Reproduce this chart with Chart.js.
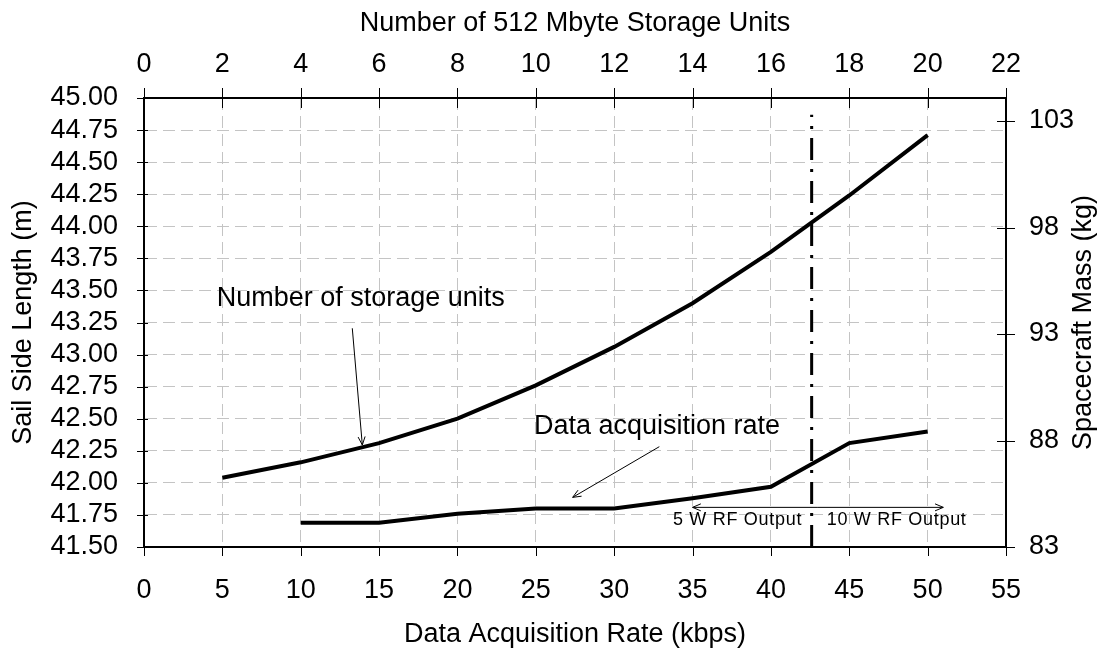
<!DOCTYPE html>
<html>
<head>
<meta charset="utf-8">
<script src="https://cdn.jsdelivr.net/npm/chart.js@4.4.1/dist/chart.umd.min.js"></script>
<style>
  html, body { margin: 0; background: #fff; }
</style>
</head>
<body>
<canvas id="myChart" width="1104" height="652"></canvas>
<script>
// data
const rateKbps = [10, 15, 20, 25, 30, 35, 40, 45, 50]
const rateSail = [41.69, 41.69, 41.76, 41.80, 41.80, 41.88, 41.97, 42.31, 42.40]
const storageUnits = [2, 4, 6, 8, 10, 12, 14, 16, 18, 20]
const storageSail = [42.04, 42.16, 42.31, 42.50, 42.76, 43.06, 43.40, 43.80, 44.24, 44.71]
const rfSwitchKbps = 42.6
const massTicks = [83, 88, 93, 98, 103]

const FONT = '"Liberation Sans", Arial, sans-serif'
Chart.defaults.font.family = FONT
Chart.defaults.font.size = 27
Chart.defaults.color = '#000'

function arrowHead (ctx, x0, y0, x1, y1) {
  const a = Math.atan2(y1 - y0, x1 - x0)
  const len = 9
  ctx.beginPath()
  ctx.moveTo(x1 - len * Math.cos(a - 0.4), y1 - len * Math.sin(a - 0.4))
  ctx.lineTo(x1, y1)
  ctx.lineTo(x1 - len * Math.cos(a + 0.4), y1 - len * Math.sin(a + 0.4))
  ctx.stroke()
}

// tick marks (Excel style cross ticks), notes and arrows
const extras = {
  id: 'extras',
  afterDraw (chart) {
    const { ctx, chartArea: ca, scales } = chart
    const { x, y } = scales
    ctx.save()
    ctx.strokeStyle = '#000'
    ctx.lineWidth = 1
    ctx.beginPath()
    scales.y.ticks.forEach(t => {
      const p = Math.round(scales.y.getPixelForValue(t.value)) + 0.5
      ctx.moveTo(ca.left - 7, p); ctx.lineTo(ca.left + 4, p)
    })
    scales.y2.ticks.forEach(t => {
      const p = Math.round(scales.y2.getPixelForValue(t.value)) + 0.5
      ctx.moveTo(ca.right - 9, p); ctx.lineTo(ca.right + 9, p)
    })
    scales.x2.ticks.forEach(t => {
      const p = Math.round(scales.x2.getPixelForValue(t.value)) + 0.5
      ctx.moveTo(p, ca.top - 10); ctx.lineTo(p, ca.top + 10)
    })
    scales.x.ticks.forEach(t => {
      const p = Math.round(scales.x.getPixelForValue(t.value)) + 0.5
      ctx.moveTo(p, ca.bottom); ctx.lineTo(p, ca.bottom + 9)
    })
    ctx.stroke()

    // annotation arrows
    const arrow = (xa, ya, xb, yb) => {
      const x0 = x.getPixelForValue(xa), y0 = y.getPixelForValue(ya)
      const x1 = x.getPixelForValue(xb), y1 = y.getPixelForValue(yb)
      ctx.beginPath(); ctx.moveTo(x0, y0); ctx.lineTo(x1, y1); ctx.stroke()
      arrowHead(ctx, x0, y0, x1, y1)
    }
    arrow(13.29, 43.205, 13.93, 42.295)
    arrow(32.88, 42.282, 27.35, 41.887)
    // double arrow for RF output ranges
    arrow(43, 41.809, 35, 41.809)
    arrow(43, 41.809, 51, 41.809)

    ctx.fillStyle = '#000'
    ctx.textBaseline = 'middle'
    ctx.textAlign = 'left'
    ctx.font = '27px ' + FONT
    ctx.fillText('Number of storage units', x.getPixelForValue(4.64), y.getPixelForValue(43.433))
    ctx.fillText('Data acquisition rate', x.getPixelForValue(24.88), y.getPixelForValue(42.438))
    ctx.font = '18px ' + FONT
    ctx.letterSpacing = '0.7px'
    ctx.fillText('5 W RF Output', x.getPixelForValue(33.75), y.getPixelForValue(41.71))
    ctx.fillText('10 W RF Output', x.getPixelForValue(43.56), y.getPixelForValue(41.71))
    ctx.letterSpacing = '0px'

    // right axis title, reading bottom to top
    ctx.font = '27px ' + FONT
    ctx.textAlign = 'center'
    ctx.translate(1084, (ca.top + ca.bottom) / 2)
    ctx.rotate(-Math.PI / 2)
    ctx.fillText('Spacecraft Mass (kg)', 0, 0)
    ctx.restore()
  }
}

const ctx = document.getElementById('myChart')
// eslint-disable-next-line no-unused-vars
const myChart = new Chart(ctx, {
  type: 'line',
  data: {
    datasets: [{
      label: 'Number of storage units',
      data: storageUnits.map((u, i) => ({ x: u, y: storageSail[i] })),
      xAxisID: 'x2',
      yAxisID: 'y',
      borderColor: '#000',
      borderWidth: 4,
      pointRadius: 0,
      tension: 0
    }, {
      label: 'Data acquisition rate',
      data: rateKbps.map((r, i) => ({ x: r, y: rateSail[i] })),
      xAxisID: 'x',
      yAxisID: 'y',
      borderColor: '#000',
      borderWidth: 4,
      pointRadius: 0,
      tension: 0
    }, {
      label: 'RF switch',
      data: [{ x: rfSwitchKbps, y: 41.5 }, { x: rfSwitchKbps, y: 44.87 }],
      xAxisID: 'x',
      yAxisID: 'y',
      borderColor: '#000',
      borderWidth: 3,
      borderDash: [22, 9, 3, 9],
      borderCapStyle: 'butt',
      pointRadius: 0
    }]
  },
  options: {
    responsive: false,
    animation: false,
    layout: { padding: 0 },
    plugins: { legend: { display: false }, tooltip: { enabled: false } },
    scales: {
      x: {
        type: 'linear',
        position: 'bottom',
        min: 0,
        max: 55,
        ticks: { stepSize: 5, padding: 27, maxRotation: 0, autoSkip: false },
        grid: { color: '#c4c4c4', lineWidth: 1, drawTicks: false },
        border: { color: '#000', width: 2, dash: [12, 6] },
        title: { display: true, text: 'Data Acquisition Rate (kbps)', font: { size: 27 }, padding: { top: 0, bottom: 1 } },
        afterFit: s => { s.height = 105 }
      },
      x2: {
        type: 'linear',
        position: 'top',
        min: 0,
        max: 22,
        ticks: { stepSize: 2, padding: 17, maxRotation: 0, autoSkip: false },
        grid: { drawOnChartArea: false, drawTicks: false },
        border: { color: '#000', width: 2 },
        title: { display: true, text: 'Number of 512 Mbyte Storage Units', font: { size: 27 }, padding: { top: 7, bottom: 0 } },
        afterFit: s => { s.height = 98 }
      },
      y: {
        type: 'linear',
        position: 'left',
        min: 41.5,
        max: 45,
        ticks: { stepSize: 0.25, padding: 26, autoSkip: false, callback: v => v.toFixed(2) },
        grid: { color: '#c4c4c4', lineWidth: 1, drawTicks: false },
        border: { color: '#000', width: 2, dash: [12, 6] },
        title: { display: true, text: 'Sail Side Length (m)', font: { size: 27 }, padding: { top: 7, bottom: 0 } },
        afterFit: s => { s.width = 144 }
      },
      y2: {
        type: 'linear',
        position: 'right',
        min: 83,
        max: 104.08,
        afterBuildTicks: s => { s.ticks = massTicks.map(v => ({ value: v })) },
        ticks: { padding: 23, autoSkip: false },
        grid: { drawOnChartArea: false, drawTicks: false },
        border: { color: '#000', width: 2 },
        afterFit: s => { s.width = 98 }
      }
    }
  },
  plugins: [extras]
})
</script>
</body>
</html>
